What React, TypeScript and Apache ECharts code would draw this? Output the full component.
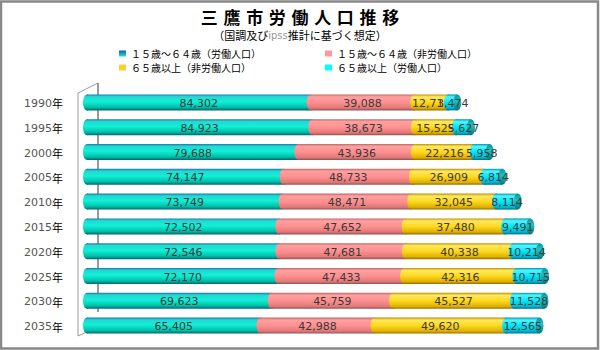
import React, { useEffect, useRef } from "react";
import * as echarts from "echarts";

const years = ["1990", "1995", "2000", "2005", "2010", "2015", "2020", "2025", "2030", "2035"];
const labor1564 = [84302, 84923, 79688, 74147, 73749, 72502, 72546, 72170, 69623, 65405];
const nonLabor1564 = [39088, 38673, 43936, 48733, 48471, 47652, 47681, 47433, 45759, 42988];
const nonLabor65 = [12714, 15529, 22216, 26909, 32045, 37480, 40338, 42316, 45527, 49620];
const labor65 = [3474, 5627, 5958, 6814, 8114, 9491, 10214, 10715, 11528, 12565];
const seriesNames = [
  "１５歳～６４歳（労働人口）",
  "１５歳～６４歳（非労働人口）",
  "６５歳以上（非労働人口）",
  "６５歳以上（労働人口）",
];

const stopsList = [
  [
    [0, "#1878b0"], [0.14, "#22d8d0"], [0.45, "#12f0d8"], [0.8, "#00c0a8"], [1, "#006870"],
  ],
  [
    [0, "#c06868"], [0.15, "#ffa0a0"], [0.5, "#ff9090"], [0.85, "#e07878"], [1, "#905050"],
  ],
  [
    [0, "#c09000"], [0.15, "#ffe860"], [0.5, "#ffd820"], [0.85, "#e0b000"], [1, "#907000"],
  ],
  [
    [0, "#0098b0"], [0.15, "#50f4ff"], [0.5, "#00e8f8"], [0.85, "#00b8d0"], [1, "#007080"],
  ],
];
const legendColors = ["#20b0c8", "#ff9999", "#ffcc33", "#00ffff"];

const fmt = (v: number) => v.toLocaleString("en-US");

export default function App() {
  const ref = useRef<HTMLDivElement>(null);
  useEffect(() => {
    if (!ref.current) return;
    const chart = echarts.init(ref.current, null, { renderer: "svg" });
    const groups = [labor1564, nonLabor1564, nonLabor65, labor65];
    const series = groups.map((arr, si) => {
      const data = arr.map((v, i) => {
        let start = 0;
        for (let k = 0; k < si; k++) start += groups[k][i];
        return [i, start, start + v, v];
      });
      const isLast = si === groups.length - 1;
      return {
        type: "custom",
        name: seriesNames[si],
        itemStyle: {
          color:
            si === 0
              ? new echarts.graphic.LinearGradient(0, 0, 0, 1, [
                  { offset: 0, color: "#0060c0" },
                  { offset: 1, color: "#30e0c0" },
                ])
              : legendColors[si],
        },
        encode: { x: [1, 2], y: 0 },
        data,
        renderItem: (params: any, api: any) => {
          const ci = api.value(0);
          const s = api.value(1);
          const e = api.value(2);
          const val = api.value(3);
          const p0 = api.coord([s, ci]);
          const p1 = api.coord([e, ci]);
          const h = 16;
          const rx = 4;
          const y = p0[1] - h / 2;
          const grad = new echarts.graphic.LinearGradient(
            0, 0, 0, 1,
            stopsList[si].map((st: any) => ({ offset: st[0], color: st[1] }))
          );
          const children: any[] = [
            { type: "rect", shape: { x: p0[0], y, width: p1[0] - p0[0], height: h }, style: { fill: grad } },
            { type: "ellipse", shape: { cx: p0[0], cy: p0[1], rx, ry: h / 2 }, style: { fill: grad } },
          ];
          if (isLast) {
            children.push({
              type: "ellipse",
              shape: { cx: p1[0], cy: p1[1], rx, ry: h / 2 },
              style: {
                fill: new echarts.graphic.LinearGradient(0, 0, 0, 1, [
                  { offset: 0, color: "#009aa0" },
                  { offset: 0.4, color: "#20c0c0" },
                  { offset: 1, color: "#007878" },
                ]),
              },
            });
          }
          children.push({
            type: "text",
            style: {
              text: fmt(val),
              x: (p0[0] + p1[0]) / 2,
              y: p0[1] + 1,
              align: "center",
              verticalAlign: "middle",
              fill: "#3a3a3a",
              fontSize: 11,
              fontFamily: "DejaVu Sans",
            },
          });
          return { type: "group", children };
        },
      };
    });

    chart.setOption({
      animation: false,
      backgroundColor: "#ffffff",
      title: {
        text: "三\u2004鷹\u2004市\u2004労\u2004働\u2004人\u2004口\u2004推\u2004移",
        subtext: "（国調及び{g|ipss}推計に基づく想定）",
        left: "center",
        top: 7,
        padding: 0,
        itemGap: 4,
        textStyle: {
          fontSize: 17,
          lineHeight: 18,
          fontWeight: "bold",
          color: "#000",
          fontFamily: "Noto Sans CJK JP",
        },
        subtextStyle: {
          fontSize: 11,
          lineHeight: 12,
          color: "#000",
          fontFamily: "Noto Sans CJK JP",
          rich: { g: { fontSize: 10, lineHeight: 12, color: "#999", fontFamily: "DejaVu Sans" } },
        },
      },
      legend: [
        {
          data: [seriesNames[0], seriesNames[2]],
          orient: "vertical",
          left: 119,
          top: 48,
          padding: 0,
          itemGap: 3,
          itemWidth: 7,
          itemHeight: 6,
          icon: "rect",
          selectedMode: false,
          textStyle: { fontSize: 10, lineHeight: 11, color: "#000", fontFamily: "Noto Sans CJK JP" },
        },
        {
          data: [seriesNames[1], seriesNames[3]],
          orient: "vertical",
          left: 325,
          top: 48,
          padding: 0,
          itemGap: 3,
          itemWidth: 7,
          itemHeight: 6,
          icon: "rect",
          selectedMode: false,
          textStyle: { fontSize: 10, lineHeight: 11, color: "#000", fontFamily: "Noto Sans CJK JP" },
        },
      ],
      grid: { left: 87, right: 9, top: 90, bottom: 12 },
      xAxis: { type: "value", min: 0, max: 190000, show: false },
      yAxis: {
        type: "category",
        data: years,
        inverse: true,
        axisLine: { show: false },
        axisTick: { show: false },
        splitLine: { show: false },
        axisLabel: {
          margin: 24,
          formatter: (v: string) => `{n|${v}}{y|年}`,
          rich: {
            n: { fontSize: 11, color: "#555", fontFamily: "DejaVu Sans", padding: [2, 0, 0, 0] },
            y: { fontSize: 11, color: "#000", fontFamily: "Noto Sans CJK JP", padding: [2, 0, 0, 0] },
          },
        },
      },
      graphic: [
        {
          type: "polyline",
          z: 0,
          shape: { points: [[98, 83], [78, 93], [78, 336], [98, 327]] },
          style: { stroke: "#999", lineWidth: 1, fill: "none" },
        },
        {
          type: "line",
          z: 0,
          shape: { x1: 98, y1: 83, x2: 98, y2: 312 },
          style: { stroke: "#999", lineWidth: 2 },
        },
        {
          type: "rect",
          z: 100,
          shape: { x: 1, y: 1.5, width: 597, height: 347 },
          style: { fill: "none", stroke: "#888", lineWidth: 2.5 },
        },
      ],
      series,
    });
    return () => chart.dispose();
  }, []);
  return (
    <div
      ref={ref}
      style={{ position: "absolute", left: 0, top: 0, width: 600, height: 350 }}
    />
  );
}
